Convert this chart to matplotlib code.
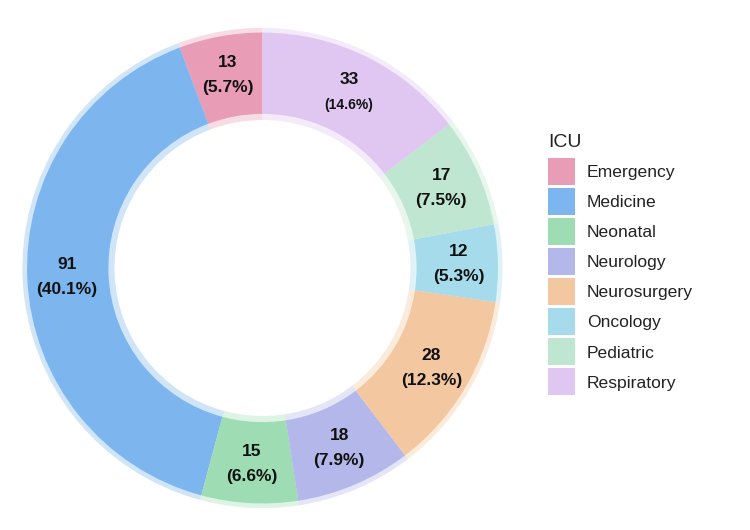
import matplotlib
matplotlib.use("Agg")
import matplotlib.pyplot as plt
from matplotlib.patches import Wedge, Patch
import numpy as np

plt.rcParams['font.family'] = ['Liberation Sans', 'DejaVu Sans']

categories = ["Emergency", "Medicine", "Neonatal", "Neurology", "Neurosurgery", "Oncology", "Pediatric", "Respiratory"]
values = [13, 91, 15, 18, 28, 12, 17, 33]
percentages = [5.7, 40.1, 6.6, 7.9, 12.3, 5.3, 7.5, 14.6]
colors = ["#E89CB5", "#7DB6EE", "#9EDDB4", "#B3B7E9", "#F3C7A0", "#A6DBEB", "#BFE6D0", "#E0C7F1"]

fig = plt.figure(figsize=(7.5, 5.3), dpi=100)
ax = fig.add_axes([17.5/750, 17/530, 490/750, 490/530])
ax.set_xlim(-1, 1)
ax.set_ylim(-1, 1)
ax.set_aspect('equal')
ax.axis('off')

total = sum(values)
R_out, R_in = 0.961, 0.629
band_out, band_in = 0.98, 0.604
r_lab = 0.80
start = 90.0
for cat, v, p, c in zip(categories, values, percentages, colors):
    span = 360.0 * v / total
    t1, t2 = start, start + span
    ax.add_patch(Wedge((0, 0), band_out, t1, t2, width=band_out - band_in,
                       facecolor=c, alpha=0.35, edgecolor='none'))
    ax.add_patch(Wedge((0, 0), R_out, t1, t2, width=R_out - R_in,
                       facecolor=c, edgecolor='none'))
    mid = np.deg2rad((t1 + t2) / 2)
    x, y = r_lab * np.cos(mid), r_lab * np.sin(mid)
    small = cat == "Respiratory"
    ax.text(x, y + 0.051, f"{v}", ha='center', va='center', fontsize=12.5, fontweight='bold', color='#111111')
    ax.text(x, y - 0.051, f"({p:.1f}%)", ha='center', va='center',
            fontsize=10 if small else 12.5, fontweight='bold', color='#111111')
    start = t2

handles = [Patch(facecolor=c, edgecolor='none', label=cat) for cat, c in zip(categories, colors)]
leg = fig.legend(handles=handles, title="ICU", loc='upper left', bbox_to_anchor=(548/750, 1 - 134/530),
                 frameon=False, fontsize=12.6, title_fontsize=14, handlelength=1.54, handleheight=2.0,
                 labelspacing=0.17, handletextpad=0.69, borderpad=0, borderaxespad=0, alignment='left')
leg._legend_box.sep = 5.3
leg.get_title().set_color('#222222')
for t in leg.get_texts():
    t.set_color('#222222')

fig.savefig("out.png", dpi=100, facecolor='white')
